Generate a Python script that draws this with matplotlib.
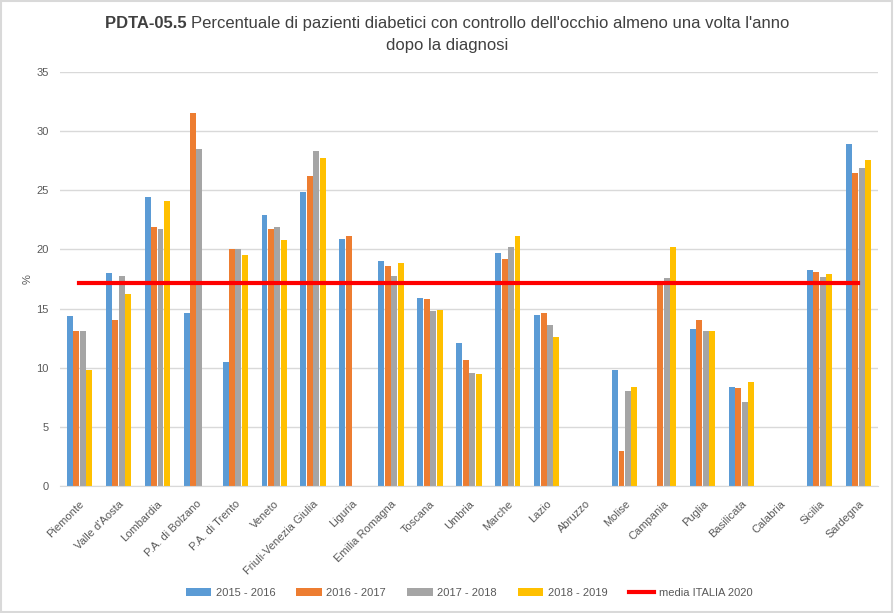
import numpy as np
import matplotlib.pyplot as plt
from matplotlib.patches import Rectangle

plt.rcParams['font.family'] = ['Liberation Sans', 'DejaVu Sans']

regioni = ['Piemonte', "Valle d'Aosta", 'Lombardia', 'P.A. di Bolzano', 'P.A. di Trento',
           'Veneto', 'Friuli-Venezia Giulia', 'Liguria', 'Emilia Romagna', 'Toscana',
           'Umbria', 'Marche', 'Lazio', 'Abruzzo', 'Molise', 'Campania', 'Puglia',
           'Basilicata', 'Calabria', 'Sicilia', 'Sardegna']

nan = np.nan
v_2015 = [14.4, 18.0, 24.4, 14.6, 10.5, 22.9, 24.9, 20.9, 19.0, 15.9, 12.1, 19.7, 14.5,
          nan, 9.8, nan, 13.3, 8.4, nan, 18.3, 28.9]
v_2016 = [13.1, 14.0, 21.9, 31.5, 20.0, 21.7, 26.2, 21.1, 18.6, 15.8, 10.7, 19.2, 14.6,
          nan, 3.0, 17.3, 14.0, 8.3, nan, 18.1, 26.5]
v_2017 = [13.1, 17.8, 21.7, 28.5, 20.0, 21.9, 28.3, nan, 17.8, 14.8, 9.6, 20.2, 13.6,
          nan, 8.0, 17.6, 13.1, 7.1, nan, 17.7, 26.9]
v_2018 = [9.8, 16.2, 24.1, nan, 19.5, 20.8, 27.7, nan, 18.9, 14.9, 9.5, 21.1, 12.6,
          nan, 8.4, 20.2, 13.1, 8.8, nan, 17.9, 27.6]
media_italia = 17.14

serie = [('2015 - 2016', v_2015, '#5B9BD5'),
         ('2016 - 2017', v_2016, '#ED7D31'),
         ('2017 - 2018', v_2017, '#A5A5A5'),
         ('2018 - 2019', v_2018, '#FFC000')]

fig = plt.figure(figsize=(8.94, 6.13), dpi=100)
ax = fig.add_axes([0.067, 0.207, 0.915, 0.6755])

x = np.arange(len(regioni))
bw = 0.165
handles = []
for i, (lab, vals, col) in enumerate(serie):
    h = ax.bar(x + (i - 1.5) * bw, vals, width=bw * 0.93, color=col, label=lab, zorder=2)
    handles.append(h)

ln, = ax.plot([x[0], x[-1]], [media_italia, media_italia], color='#FF0000', lw=3,
              label='media ITALIA 2020', zorder=3)
handles.append(ln)

ax.set_xlim(-0.5, len(regioni) - 0.5)
ax.set_ylim(0, 35)
ax.set_yticks(np.arange(0, 36, 5))
ax.grid(axis='y', color='#D9D9D9', lw=1, zorder=0)
for s in ['top', 'right', 'left']:
    ax.spines[s].set_visible(False)
ax.spines['bottom'].set_color('#D9D9D9')
ax.tick_params(axis='both', length=0, colors='#595959', labelsize=8)
ax.tick_params(axis='y', pad=8)
ax.tick_params(axis='x', pad=9)
ax.set_xticks(x)
ax.set_xticklabels(regioni, rotation=45, ha='right', rotation_mode='anchor')
ax.set_ylabel('%', color='#595959', fontsize=8, labelpad=3)

# titolo: parte in grassetto + resto, centrato misurando le larghezze
tsize = 12
fig.canvas.draw()
r = fig.canvas.get_renderer()
t1 = fig.text(0, 0.962, 'PDTA-05.5 ', fontsize=tsize, fontweight='bold', color='#404040',
              ha='left', va='center')
t2 = fig.text(0, 0.962, "Percentuale di pazienti diabetici con controllo dell'occhio almeno una volta l'anno",
              fontsize=tsize, color='#404040', ha='left', va='center')
w1 = t1.get_window_extent(r).width
w2 = t2.get_window_extent(r).width
W = fig.bbox.width
x0 = (W - w1 - w2) / 2
t1.set_x(x0 / W)
t2.set_x((x0 + w1) / W)
fig.text(0.5, 0.926, 'dopo la diagnosi', fontsize=tsize, color='#404040', ha='center', va='center')

ax.legend(handles=handles, loc='upper center', bbox_to_anchor=(0.5, -0.222), ncol=5,
          frameon=False, fontsize=8, handlelength=2.3, handleheight=0.7, columnspacing=1.9,
          handletextpad=0.4, labelcolor='#595959')

fig.patches.append(Rectangle((0.001, 0.002), 0.997, 0.996, transform=fig.transFigure,
                             fill=False, edgecolor='#D9D9D9', lw=1.5))

fig.savefig('out.png', dpi=100)
